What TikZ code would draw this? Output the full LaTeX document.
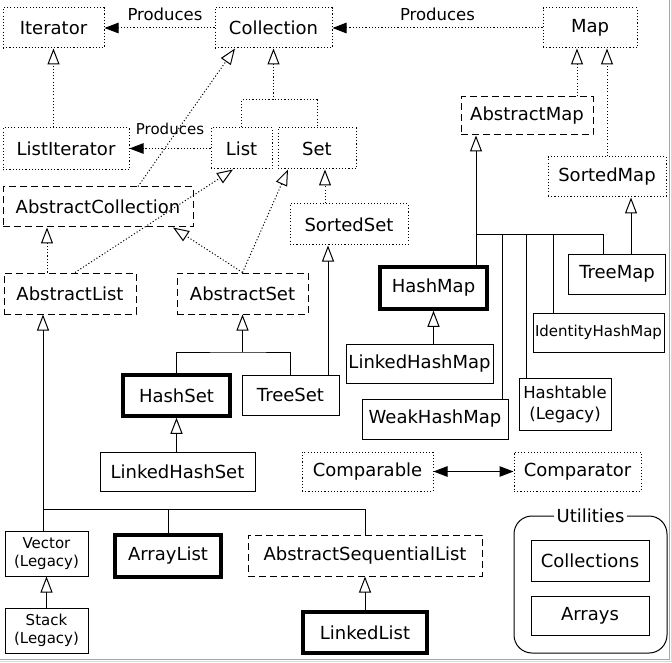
\documentclass[tikz,border=0pt]{standalone}
\usepackage{fontspec}
\setmainfont{DejaVu Sans}
\usetikzlibrary{arrows.meta}

\begin{document}
\begin{tikzpicture}
[
  x=1pt, y=-1pt,
  box/.style = {draw, line width=1pt, inner sep=0pt, minimum height=40, font=\fontsize{18}{21}\selectfont},
  iface/.style = {box, dash pattern=on 1.1pt off 2.1pt},
  abstract/.style = {box, dash pattern=on 7pt off 4pt},
  impl/.style = {box},
  main/.style = {box, line width=3.5pt},
  small/.style = {font=\fontsize{15}{18.5}\selectfont, align=center},
  link/.style = {line width=1pt},
  dots/.style = {link, dash pattern=on 1.1pt off 2.1pt},
  gen/.style = {-{Triangle[fill=white, length=16pt, width=12pt]}},
  prod/.style = {-{Triangle[length=14pt, width=10.5pt]}},
  prodtext/.style = {inner sep=0pt, font=\fontsize{16.5}{20}\selectfont},
]

\useasboundingbox (0,0) rectangle (672,663);

% interfaces, abstract classes and classes
\node (Iterator) at (53.5,28) [iface, minimum width=101] {Iterator};
\node (Collection) at (273.5,28) [iface, minimum width=117] {Collection};
\node (Map) at (590,28) [iface, minimum width=94] {Map};
\node (AbstractMap) at (527,116) [abstract, minimum width=132, minimum height=38] {AbstractMap};
\node (ListIterator) at (66,149) [iface, minimum width=126, minimum height=42] {ListIterator};
\node (List) at (241.5,148.5) [iface, minimum width=61, minimum height=41] {List};
\node (Set) at (317,148.5) [iface, minimum width=78, minimum height=41] {Set};
\node (SortedMap) at (607,177) [iface, minimum width=118] {SortedMap};
\node (AbstractCollection) at (98,207) [abstract, minimum width=190] {AbstractCollection};
\node (SortedSet) at (349,224.5) [iface, minimum width=118, minimum height=41] {SortedSet};
\node (TreeMap) at (617,274) [impl, minimum width=97] {TreeMap};
\node (HashMap) at (433.5,288) [main, minimum width=107, minimum height=42] {HashMap};
\node (AbstractList) at (70,293.5) [abstract, minimum width=132, minimum height=41] {AbstractList};
\node (AbstractSet) at (242.5,293.5) [abstract, minimum width=131, minimum height=41] {AbstractSet};
\node (IdentityHashMap) at (598.5,332.5) [impl, small, minimum width=131, minimum height=39] {IdentityHashMap};
\node (LinkedHashMap) at (419.5,363.5) [impl, minimum width=147, minimum height=39] {LinkedHashMap};
\node (HashSet) at (176.5,395.5) [main, minimum width=107, minimum height=41] {HashSet};
\node (TreeSet) at (290.5,395) [impl, minimum width=97] {TreeSet};
\node (Hashtable) at (565,404) [impl, align=center, font=\fontsize{16.5}{21}\selectfont, minimum width=92, minimum height=52] {Hashtable\\(Legacy)};
\node (WeakHashMap) at (435,419) [impl, minimum width=146] {WeakHashMap};
\node (LinkedHashSet) at (177.5,471.5) [impl, minimum width=155, minimum height=39] {LinkedHashSet};
\node (Comparable) at (367.5,471.5) [iface, minimum width=131, minimum height=39] {Comparable};
\node (Comparator) at (577.5,471.5) [iface, minimum width=127, minimum height=39] {Comparator};
\node (Vector) at (46.5,553.5) [impl, small, minimum width=83, minimum height=45] {Vector\\(Legacy)};
\node (ArrayList) at (168,556) [main, minimum width=106, minimum height=42] {ArrayList};
\node (AbstractSequentialList) at (365,555.5) [abstract, minimum width=234, minimum height=41] {AbstractSequentialList};
\node (Stack) at (46.5,630.5) [impl, small, minimum width=83, minimum height=45] {Stack\\(Legacy)};
\node (LinkedList) at (365,632.5) [main, minimum width=124, minimum height=41] {LinkedList};

% utilities group
\node (Utilities) at (590.5,584.5) [draw, link, rounded corners=18pt, minimum width=153, minimum height=137] {};
\node (UtilitiesTitle) at (Utilities.north) [fill=white, inner xsep=3pt, inner ysep=1pt, font=\fontsize{18}{21}\selectfont] {Utilities};
\node (Collections) at (590,560.5) [impl, minimum width=118, minimum height=41] {Collections};
\node (Arrays) at (590,615.5) [impl, minimum width=118, minimum height=39] {Arrays};

\coordinate (collJoin) at (273.5,100);
\coordinate (setJoin) at (AbstractSet.south |- 0,352);
\coordinate (listJoin) at (43,509);
\coordinate (mapJoin) at (476,235);

% produces
\draw[dots, prod] (Collection) -- (Iterator) node[pos=0.45, above=7pt, prodtext] {Produces};
\draw[dots, prod] (Map) -- (Collection) node[midway, above=7pt, prodtext] {Produces};
\draw[dots, prod] (List.west) -- (List.west -| ListIterator.east) node[midway, above=13pt, prodtext, font=\fontsize{15}{18}\selectfont] {Produces};

% interface hierarchy
\draw[dots, gen] (Iterator.south |- ListIterator.north) -- (Iterator.south);
\draw[dots] (List.north) |- (collJoin) -| (Set.north);
\draw[dots, gen] (collJoin) -- (Collection.south);
\draw[dots, gen] (AbstractMap.north -| 577,0) -- (Map.south -| 577,0);
\draw[dots, gen] (SortedMap.north) -- (SortedMap.north |- Map.south);
\draw[dots, gen] (SortedSet.north -| 325,0) -- (Set.south -| 325,0);
\draw[dots, gen] (AbstractCollection.north -| 138,0) -- (Collection.south -| 235,0);
\draw[dots, gen] (AbstractList.north -| 75,0) -- (List.south -| 233,0);
\draw[dots, gen] (AbstractList.north -| 47,0) -- (AbstractCollection.south -| 47,0);
\draw[dots, gen] (AbstractSet.north) -- (AbstractCollection.south -| 173,0);
\draw[dots, gen] (AbstractSet.north) -- (Set.south -| 288,0);

% sets
\draw[link, gen] (TreeSet.north -| 328,0) -- (SortedSet.south -| 328,0);
\draw[link] (HashSet.north) |- (setJoin) -| (TreeSet.north);
\draw[link, gen] (setJoin) -- (AbstractSet.south);
\draw[link, gen] (HashSet.south |- LinkedHashSet.north) -- (HashSet.south);

% lists
\draw[link] (Vector.north -| listJoin) -- (listJoin) -| (AbstractSequentialList.north);
\draw[link] (ArrayList.north) -- (ArrayList.north |- listJoin);
\draw[link, gen] (listJoin) -- (AbstractList.south -| listJoin);
\draw[link, gen] (Stack.north) -- (Vector.south);
\draw[link, gen] (LinkedList) -- (AbstractSequentialList);

% maps
\draw[link, gen] (HashMap.north -| mapJoin) -- (AbstractMap.south -| mapJoin);
\draw[link] (mapJoin) -| (TreeMap.north -| 603,0);
\draw[link] (WeakHashMap.north -| 502,0) -- (mapJoin -| 502,0);
\draw[link] (Hashtable.north -| 526,0) -- (mapJoin -| 526,0);
\draw[link] (IdentityHashMap.north -| 553,0) -- (mapJoin -| 553,0);
\draw[link, gen] (TreeMap.north -| 631,0) -- (SortedMap.south -| 631,0);
\draw[link, gen] (LinkedHashMap.north -| HashMap.south) -- (HashMap.south);

% comparison
\draw[link, {Triangle[length=14pt, width=10.5pt]}-{Triangle[length=14pt, width=10.5pt]}] (Comparable) -- (Comparator);

% frame shadow
\draw[gray!70, line width=1pt] (669,0) -- (669,659.5) -- (0,659.5);
\draw[gray!30, line width=1pt] (671,0) -- (671,661.5) -- (0,661.5);

\end{tikzpicture}
\end{document}
